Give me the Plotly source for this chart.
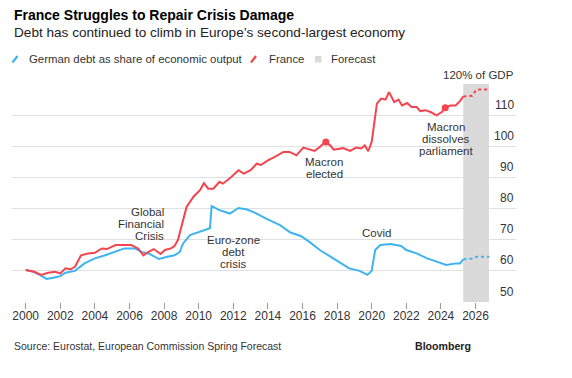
import plotly.graph_objects as go

# ---------------- data ----------------
germany_years = [2000.0, 2000.4, 2000.8, 2001.2, 2001.6, 2002.0, 2002.3, 2002.85, 2003.4, 2004.0,
                 2004.6, 2005.2, 2005.7, 2006.3, 2006.7, 2007.1, 2007.7, 2008.2, 2008.6, 2008.9,
                 2009.1, 2009.5, 2010.0, 2010.5, 2010.65, 2010.75, 2011.2, 2011.8, 2012.3, 2012.8,
                 2013.35, 2013.9, 2014.3, 2014.7, 2015.3, 2015.9, 2016.4, 2017.0, 2017.5, 2018.2,
                 2018.7, 2019.3, 2019.75, 2020.0, 2020.2, 2020.5, 2021.1, 2021.7, 2022.0, 2022.6,
                 2023.2, 2023.8, 2024.3, 2024.9, 2025.1, 2025.3]
germany_debt = [60.3, 59.8, 58.8, 57.4, 57.8, 58.3, 59.4, 60.0, 62.4, 64.0,
                65.0, 66.1, 67.2, 67.2, 66.1, 65.6, 63.8, 64.5, 65.0, 66.0,
                68.8, 71.5, 72.5, 73.3, 73.7, 80.8, 79.5, 78.4, 80.2, 79.7,
                78.4, 76.8, 75.8, 74.7, 72.3, 71.2, 69.3, 66.7, 65.0, 62.4,
                60.8, 60.0, 58.7, 60.0, 66.7, 68.3, 68.6, 68.0, 66.7, 65.6,
                64.0, 62.9, 61.9, 62.4, 62.4, 63.7]

france_years = [2000.0, 2000.5, 2000.9, 2001.3, 2001.7, 2002.0, 2002.3, 2002.6, 2002.85, 2003.2,
                2003.6, 2004.0, 2004.4, 2004.7, 2005.2, 2005.7, 2006.1, 2006.5, 2006.8, 2007.1,
                2007.4, 2007.8, 2008.05, 2008.4, 2008.6, 2008.8, 2009.1, 2009.3, 2009.7, 2010.1,
                2010.3, 2010.55, 2010.85, 2011.2, 2011.4, 2011.9, 2012.3, 2012.6, 2013.0, 2013.35,
                2013.6, 2014.0, 2014.4, 2014.9, 2015.25, 2015.65, 2016.05, 2016.7, 2017.0, 2017.3,
                2017.6, 2017.8, 2018.35, 2018.75, 2019.1, 2019.4, 2019.6, 2019.8, 2020.0, 2020.2,
                2020.3, 2020.55, 2020.8, 2021.0, 2021.3, 2021.55, 2021.75, 2022.05, 2022.3, 2022.6,
                2022.8, 2023.1, 2023.4, 2023.75, 2024.05, 2024.25, 2024.55, 2024.85, 2025.1, 2025.3]
france_debt = [60.3, 59.7, 58.7, 59.4, 59.7, 59.2, 60.8, 60.5, 61.3, 65.0,
               65.6, 65.8, 67.2, 67.0, 68.3, 68.3, 68.3, 67.2, 65.0, 66.1,
               67.0, 65.4, 66.7, 67.2, 68.0, 69.9, 76.3, 80.5, 83.8, 86.1,
               88.2, 86.4, 86.4, 88.6, 88.0, 90.2, 92.3, 91.2, 92.3, 94.4,
               94.0, 95.5, 96.6, 98.2, 98.2, 97.1, 99.6, 98.5, 99.8, 101.4,
               100.3, 98.9, 99.4, 98.5, 99.6, 99.3, 100.3, 98.4, 101.4, 109.4,
               113.7, 115.3, 115.0, 117.4, 114.2, 115.0, 113.1, 113.9, 112.6, 112.6,
               111.3, 111.6, 111.0, 109.9, 111.0, 112.4, 113.1, 113.1, 114.5, 116.0]

forecast_years = [2025.3, 2025.55, 2025.8, 2026.05, 2026.3, 2026.55, 2026.8]
germany_forecast = [63.7, 63.8, 64.0, 64.5, 64.5, 64.5, 64.5]
france_forecast = [116.0, 116.0, 116.2, 118.2, 118.2, 118.2, 118.2]

event_years = [2017.35, 2024.25]
event_debt = [101.4, 112.4]

forecast_span = [2025.29, 2026.78]

x_ticks = [2000, 2002, 2004, 2006, 2008, 2010, 2012, 2014, 2016, 2018, 2020, 2022, 2024, 2026]
x_tick_labels = [str(v) for v in x_ticks]
y_ticks = [50, 60, 70, 80, 90, 100, 110]
y_tick_labels = ["50", "60", "70", "80", "90", "100", "110"]
y_top = 120
y_top_label = "120% of GDP"

# ---------------- layout helpers ----------------
W, H = 572, 378
L, R, T, B = 12, 516, 84, 302


def px(xp):
    return (xp - L) / (R - L)


def py(yp):
    return (B - yp) / (B - T)


BLUE = "#3db3f2"
RED = "#f4444e"
GREY = "#dadada"
TXT = "#333333"
FONT = "Liberation Sans, Arial, Helvetica, sans-serif"

fig = go.Figure()

# forecast band
fig.add_trace(go.Scatter(
    x=[forecast_span[0], forecast_span[1], forecast_span[1], forecast_span[0], forecast_span[0]],
    y=[y_ticks[0], y_ticks[0], y_top, y_top, y_ticks[0]],
    fill="toself", fillcolor=GREY, mode="lines", line=dict(width=0),
    hoverinfo="skip", showlegend=False))

fig.add_trace(go.Scatter(x=germany_years, y=germany_debt, mode="lines",
                         line=dict(color=BLUE, width=2), showlegend=False))
fig.add_trace(go.Scatter(x=forecast_years, y=germany_forecast, mode="lines",
                         line=dict(color=BLUE, width=2, dash="dot"), showlegend=False))
fig.add_trace(go.Scatter(x=france_years, y=france_debt, mode="lines",
                         line=dict(color=RED, width=2), showlegend=False))
fig.add_trace(go.Scatter(x=forecast_years, y=france_forecast, mode="lines",
                         line=dict(color=RED, width=2, dash="dot"), showlegend=False))
fig.add_trace(go.Scatter(x=event_years, y=event_debt, mode="markers",
                         marker=dict(color=RED, size=7), showlegend=False))

annotations = []


def txt(text, xp, yp, size=11.5, anchor="center", color=TXT, bold=False):
    annotations.append(dict(
        text=("<b>%s</b>" % text) if bold else text,
        x=px(xp), y=py(yp), xref="paper", yref="paper",
        xanchor=anchor, yanchor="middle", showarrow=False,
        font=dict(size=size, color=color, family=FONT)))


# titles
txt("France Struggles to Repair Crisis Damage", 12, 15, size=14, anchor="left", color="#000000", bold=True)
txt("Debt has continued to climb in Europe\u2019s second-largest economy", 12, 33, size=13.6, anchor="left", color="#222222")

# legend
txt("German debt as share of economic output", 26.5, 59, size=11.4, anchor="left")
txt("France", 266.5, 59, size=11.4, anchor="left")
txt("Forecast", 329, 59, size=11.4, anchor="left")

shapes = [
    dict(type="line", xref="paper", yref="paper", x0=px(12.5), y0=py(62.5), x1=px(17.5), y1=py(56),
         line=dict(color=BLUE, width=2.2)),
    dict(type="line", xref="paper", yref="paper", x0=px(251), y0=py(62.5), x1=px(256), y1=py(56),
         line=dict(color=RED, width=2.2)),
    dict(type="rect", xref="paper", yref="paper", x0=px(315), y0=py(62.5), x1=px(321.5), y1=py(56),
         fillcolor=GREY, line=dict(width=0)),
]

# event annotations (one per line)
txt("Global", 166, 212, anchor="right")
txt("Financial", 166, 224, anchor="right")
txt("Crisis", 166, 236, anchor="right")
txt("Euro-zone", 233, 240)
txt("debt", 233, 252)
txt("crisis", 233, 263.5)
txt("Macron", 324, 162)
txt("elected", 324, 173.5)
txt("Macron", 446, 127)
txt("dissolves", 446, 139)
txt("parliament", 446, 151)
txt("Covid", 376, 233)

# y labels above gridlines
for v, lab in zip(y_ticks, y_tick_labels):
    annotations.append(dict(text=lab, x=1, xref="paper", xanchor="right", y=v, yref="y",
                            yanchor="middle", yshift=10.5, showarrow=False,
                            font=dict(size=12, color=TXT, family=FONT)))
annotations.append(dict(text=y_top_label, x=1, xref="paper", xanchor="right", y=y_top, yref="y",
                        yanchor="middle", yshift=9.5, showarrow=False,
                        font=dict(size=11.5, color=TXT, family=FONT)))

# footer
txt("Source: Eurostat, European Commission Spring Forecast", 12, 346, size=10.5, anchor="left")
txt("Bloomberg", 473, 346, size=10.6, anchor="right", color="#222222", bold=True)

fig.update_layout(
    width=W, height=H, autosize=False,
    margin=dict(l=L, r=W - R, t=T, b=H - B, pad=0),
    paper_bgcolor="white", plot_bgcolor="white",
    showlegend=False, hovermode=False,
    annotations=annotations, shapes=shapes,
    font=dict(family=FONT, color=TXT),
    xaxis=dict(range=[1999.21, 2028.34], tickmode="array", tickvals=x_ticks, ticktext=x_tick_labels,
               showgrid=False, zeroline=False, showline=False,
               ticks="outside", ticklen=6, tickcolor="#9a9a9a", tickwidth=1,
               ticklabelstandoff=-3,
               tickfont=dict(size=12, color=TXT, family=FONT)),
    yaxis=dict(range=[50, 120], tickmode="array", tickvals=y_ticks + [y_top],
               showticklabels=False, showgrid=True, gridcolor="#e0e0e0", gridwidth=1,
               zeroline=False, showline=False, ticks=""),
)

fig.write_html("out.html", config={"displayModeBar": False},
               post_script="document.body.style.margin='0px';")
